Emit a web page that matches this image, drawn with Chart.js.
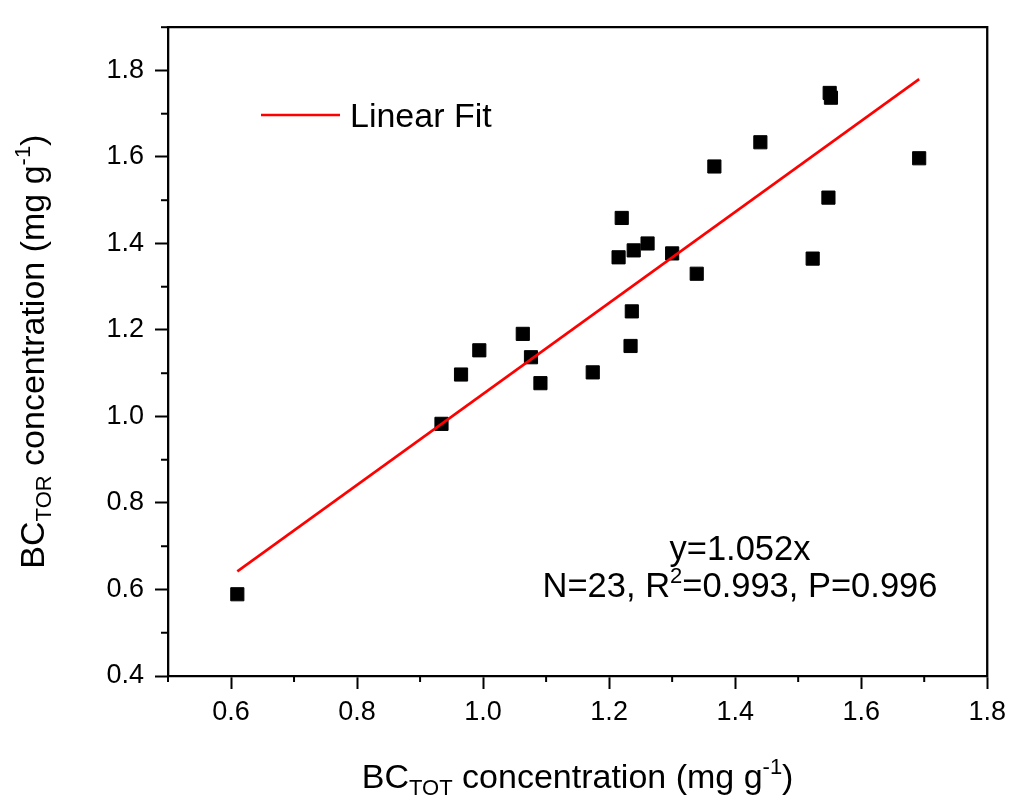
<!DOCTYPE html>
<html>
<head>
<meta charset="utf-8">
<script src="https://cdn.jsdelivr.net/npm/chart.js@4.4.1/dist/chart.umd.min.js"></script>
<style>
  html, body { margin: 0; padding: 0; background: #fff; }
  #wrap { width: 1013px; height: 805px; position: relative; }
</style>
</head>
<body>
<div id="wrap"><canvas id="chart"></canvas></div>
<script>
const FONT = '"Liberation Sans", Arial, sans-serif';

// BC_TOT (x) vs BC_TOR (y), mg g-1
const bcTot = [0.610, 0.934, 0.965, 0.994, 1.063, 1.076, 1.091, 1.174, 1.215, 1.220, 1.234, 1.236,
               1.239, 1.261, 1.300, 1.339, 1.367, 1.440, 1.523, 1.548, 1.550, 1.552, 1.692];
const bcTor = [0.589, 0.983, 1.097, 1.153, 1.191, 1.137, 1.077, 1.102, 1.368, 1.459, 1.163, 1.243,
               1.384, 1.400, 1.377, 1.330, 1.578, 1.634, 1.365, 1.506, 1.748, 1.737, 1.597];

// linear fit end points (y = 1.052x)
const fitX = [0.610, 1.692];
const fitY = [0.642, 1.780];

const xMajor = [0.6, 0.8, 1.0, 1.2, 1.4, 1.6, 1.8];
const xMinor = [0.5, 0.7, 0.9, 1.1, 1.3, 1.5, 1.7];
const yMajor = [0.4, 0.6, 0.8, 1.0, 1.2, 1.4, 1.6, 1.8];
const yMinor = [0.5, 0.7, 0.9, 1.1, 1.3, 1.5, 1.7, 1.9];

const xTitle = [{ t: 'BC' }, { t: 'TOT', sub: true }, { t: ' concentration (mg g' }, { t: '-1', sup: true }, { t: ')' }];
const yTitle = [{ t: 'BC' }, { t: 'TOR', sub: true }, { t: ' concentration (mg g' }, { t: '-1', sup: true }, { t: ')' }];
const fitLabel = 'Linear Fit';
const eqLine1 = [{ t: 'y=1.052x' }];
const eqLine2 = [{ t: 'N=23, R' }, { t: '2', sup: true }, { t: '=0.993, P=0.996' }];

// rich text: sub/superscript segments, drawn centred on (0, 0) baseline
function segFont(s, size) {
  return ((s.sub || s.sup) ? Math.round(size * 0.65) : size) + 'px ' + FONT;
}
function richWidth(ctx, segs, size) {
  return segs.reduce((w, s) => { ctx.font = segFont(s, size); return w + ctx.measureText(s.t).width; }, 0);
}
function drawRich(ctx, segs, size) {
  let x = -richWidth(ctx, segs, size) / 2;
  ctx.textAlign = 'left';
  ctx.textBaseline = 'alphabetic';
  segs.forEach(s => {
    ctx.font = segFont(s, size);
    const dy = s.sub ? size * 0.22 : s.sup ? -size * 0.40 : 0;
    ctx.fillText(s.t, x, dy);
    x += ctx.measureText(s.t).width;
  });
}

function tick(ctx, x1, y1, x2, y2) {
  ctx.beginPath(); ctx.moveTo(x1, y1); ctx.lineTo(x2, y2); ctx.stroke();
}

const decor = {
  id: 'decor',
  afterDraw(chart) {
    const { ctx, chartArea: a, scales: { x, y } } = chart;
    ctx.save();
    ctx.strokeStyle = '#000';
    ctx.fillStyle = '#000';

    // top + right frame
    ctx.lineWidth = 2.3;
    ctx.beginPath();
    ctx.moveTo(a.left - 1.15, a.top); ctx.lineTo(a.right, a.top); ctx.lineTo(a.right, a.bottom + 1.15);
    ctx.stroke();

    // minor ticks
    ctx.lineWidth = 2;
    xMinor.forEach(v => { const p = x.getPixelForValue(v); tick(ctx, p, a.bottom, p, a.bottom + 6); });
    yMinor.forEach(v => { const p = y.getPixelForValue(v); tick(ctx, a.left, p, a.left - 7, p); });

    // axis titles
    ctx.save();
    ctx.translate((a.left + a.right) / 2, 788);
    drawRich(ctx, xTitle, 34);
    ctx.restore();

    ctx.save();
    ctx.translate(44, (a.top + a.bottom) / 2);
    ctx.rotate(-Math.PI / 2);
    drawRich(ctx, yTitle, 34);
    ctx.restore();

    // legend
    ctx.strokeStyle = '#ff0000';
    ctx.lineWidth = 2.6;
    tick(ctx, 261, 115, 340, 115);
    ctx.font = '34px ' + FONT;
    ctx.textAlign = 'left';
    ctx.textBaseline = 'alphabetic';
    ctx.fillText(fitLabel, 350, 127);

    // fit statistics
    ctx.save(); ctx.translate(740, 560); drawRich(ctx, eqLine1, 34.5); ctx.restore();
    ctx.save(); ctx.translate(740, 597); drawRich(ctx, eqLine2, 34.5); ctx.restore();

    ctx.restore();
  }
};

function axis(min, max, majors, fit) {
  return {
    type: 'linear',
    min, max,
    afterBuildTicks: s => { s.ticks = majors.map(v => ({ value: v })); },
    afterFit: fit,
    grid: { drawOnChartArea: false, drawTicks: true, tickLength: 13, tickWidth: 2, tickColor: '#000' },
    border: { display: true, color: '#000', width: 2.3 },
    ticks: { color: '#000', font: { family: FONT, size: 27 }, callback: v => v.toFixed(1) },
  };
}

const xScale = axis(0.5, 1.8, xMajor, s => { s.height = 129; });
xScale.ticks.padding = 7;
const yScale = axis(0.4, 1.9, yMajor, s => { s.width = 168; });
yScale.ticks.padding = 11;

new Chart(document.getElementById('chart'), {
  type: 'scatter',
  data: {
    datasets: [
      {
        label: fitLabel,
        data: fitX.map((v, i) => ({ x: v, y: fitY[i] })),
        showLine: true,
        borderColor: '#ff0000',
        borderWidth: 2.6,
        pointRadius: 0,
        order: 0,
      },
      {
        label: 'BC',
        data: bcTot.map((v, i) => ({ x: v, y: bcTor[i] })),
        pointStyle: 'rect',
        pointRadius: 9.3,
        backgroundColor: '#000',
        borderColor: '#000',
        borderWidth: 1,
        order: 1,
      },
    ],
  },
  options: {
    responsive: true, maintainAspectRatio: false,
    animation: false,
    layout: { padding: { left: 0, top: 15, right: 25, bottom: 0 } },
    plugins: { legend: { display: false }, tooltip: { enabled: false } },
    scales: { x: xScale, y: yScale },
  },
  plugins: [decor],
});
</script>
</body>
</html>
